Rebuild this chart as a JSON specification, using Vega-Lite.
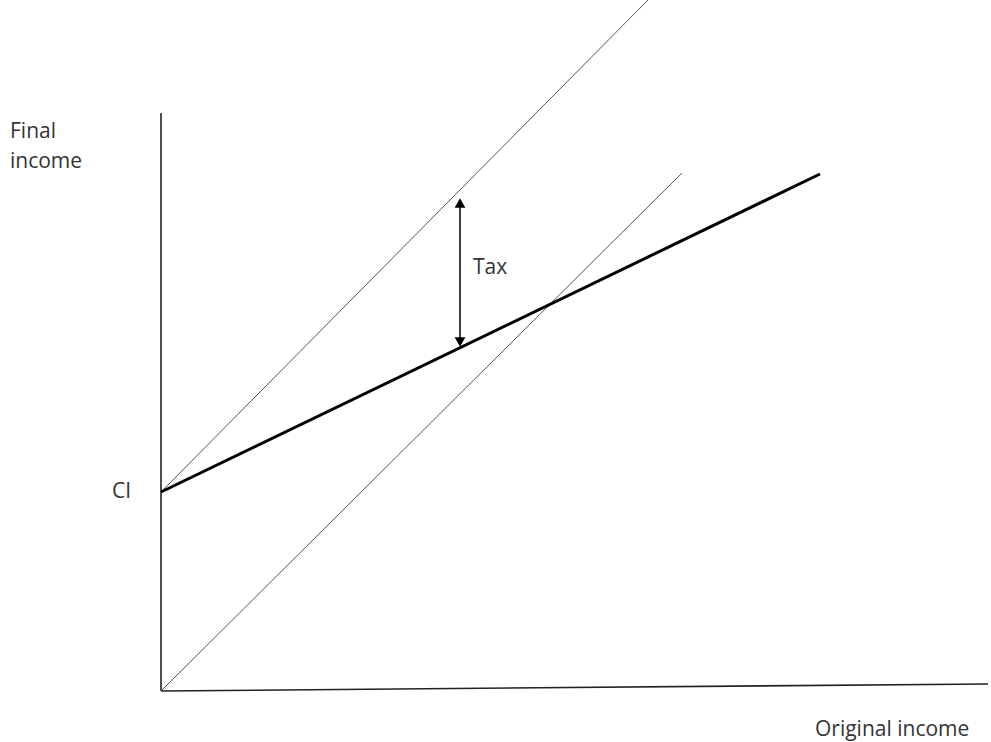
{
  "$schema": "https://vega.github.io/schema/vega-lite/v6.json",
  "width": 991,
  "height": 742,
  "padding": 0,
  "autosize": {"type": "fit", "contains": "padding"},
  "background": "white",
  "config": {"view": {"stroke": null}},
  "layer": [
    {
      "data": {"values": [
        {"id": "yaxis", "x": 0, "y": 0}, {"id": "yaxis", "x": 0, "y": 578},
        {"id": "xaxis", "x": 0, "y": 0}, {"id": "xaxis", "x": 827, "y": 7}
      ]},
      "mark": {"type": "line", "color": "#222222", "strokeWidth": 1.6, "clip": true},
      "encoding": {
        "x": {"field": "x", "type": "quantitative", "scale": {"domain": [-161, 830]}, "axis": null},
        "y": {"field": "y", "type": "quantitative", "scale": {"domain": [-51, 691]}, "axis": null},
        "detail": {"field": "id"}
      }
    },
    {
      "data": {"values": [
        {"id": "diag", "x": 0, "y": 0}, {"id": "diag", "x": 521, "y": 518},
        {"id": "upper", "x": 0, "y": 199}, {"id": "upper", "x": 487, "y": 691}
      ]},
      "mark": {"type": "line", "color": "#555555", "strokeWidth": 1, "clip": true},
      "encoding": {
        "x": {"field": "x", "type": "quantitative", "scale": {"domain": [-161, 830]}, "axis": null},
        "y": {"field": "y", "type": "quantitative", "scale": {"domain": [-51, 691]}, "axis": null},
        "detail": {"field": "id"}
      }
    },
    {
      "data": {"values": [
        {"id": "final", "x": 0, "y": 199}, {"id": "final", "x": 659, "y": 517}
      ]},
      "mark": {"type": "line", "color": "#000000", "strokeWidth": 3, "clip": true},
      "encoding": {
        "x": {"field": "x", "type": "quantitative", "scale": {"domain": [-161, 830]}, "axis": null},
        "y": {"field": "y", "type": "quantitative", "scale": {"domain": [-51, 691]}, "axis": null},
        "detail": {"field": "id"}
      }
    },
    {
      "data": {"values": [
        {"id": "arrow", "x": 299, "y": 350}, {"id": "arrow", "x": 299, "y": 488}
      ]},
      "mark": {"type": "line", "color": "#000000", "strokeWidth": 1.5},
      "encoding": {
        "x": {"field": "x", "type": "quantitative", "scale": {"domain": [-161, 830]}, "axis": null},
        "y": {"field": "y", "type": "quantitative", "scale": {"domain": [-51, 691]}, "axis": null},
        "detail": {"field": "id"}
      }
    },
    {
      "data": {"values": [
        {"x": 299, "y": 488, "shape": "triangle-up"},
        {"x": 299, "y": 349, "shape": "triangle-down"}
      ]},
      "mark": {"type": "point", "filled": true, "color": "#000000", "size": 115, "opacity": 1},
      "encoding": {
        "x": {"field": "x", "type": "quantitative", "scale": {"domain": [-161, 830]}, "axis": null},
        "y": {"field": "y", "type": "quantitative", "scale": {"domain": [-51, 691]}, "axis": null},
        "shape": {"field": "shape", "type": "nominal", "scale": {"domain": ["triangle-up", "triangle-down"], "range": ["triangle-up", "triangle-down"]}, "legend": null}
      }
    },
    {
      "data": {"values": [
        {"label": "Final", "x": -151, "y": 559},
        {"label": "income", "x": -151, "y": 529},
        {"label": "CI", "x": -49, "y": 199},
        {"label": "Tax", "x": 312, "y": 423},
        {"label": "Original income", "x": 654, "y": -39}
      ]},
      "mark": {"type": "text", "align": "left", "baseline": "middle", "font": "Open Sans", "fontSize": 21, "color": "#333333"},
      "encoding": {
        "x": {"field": "x", "type": "quantitative", "scale": {"domain": [-161, 830]}, "axis": null},
        "y": {"field": "y", "type": "quantitative", "scale": {"domain": [-51, 691]}, "axis": null},
        "text": {"field": "label"}
      }
    }
  ]
}
